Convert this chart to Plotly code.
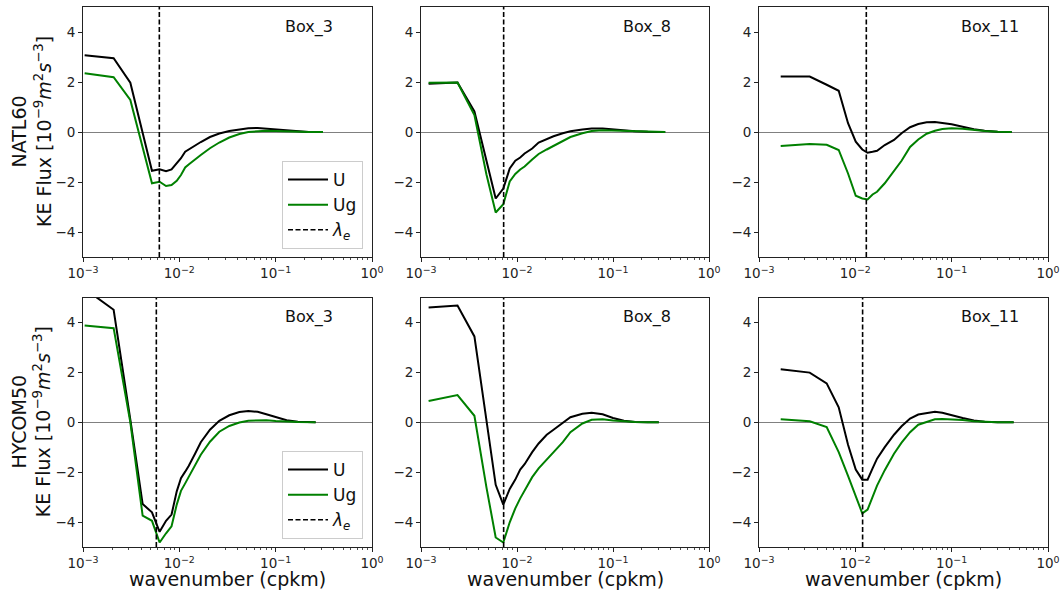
import plotly.graph_objects as go

# ---------------- data ----------------
# NATL60 Box_3
k_n3 = [0.00104, 0.00208, 0.0031, 0.00416, 0.0052, 0.00624, 0.00728, 0.0083, 0.0094, 0.0104, 0.0115,
        0.0125, 0.0146, 0.0167, 0.0208, 0.026, 0.033, 0.042, 0.052, 0.065, 0.08, 0.1, 0.13, 0.17, 0.22, 0.31]
u_n3 = [3.07, 2.95, 1.97, 0.0, -1.55, -1.49, -1.57, -1.5, -1.25, -1.05, -0.79,
        -0.7, -0.52, -0.4, -0.2, -0.06, 0.04, 0.11, 0.15, 0.16, 0.13, 0.09, 0.05, 0.02, 0.0, 0.0]
ug_n3 = [2.35, 2.19, 1.28, -0.6, -2.05, -1.99, -2.16, -2.12, -1.95, -1.72, -1.42,
         -1.3, -1.08, -0.92, -0.65, -0.42, -0.22, -0.08, 0.0, 0.04, 0.05, 0.04, 0.02, 0.01, 0.0, 0.0]

# NATL60 Box_8
k_n8 = [0.0012, 0.0024, 0.0036, 0.0048, 0.006, 0.0072, 0.0084, 0.0096, 0.0108, 0.012, 0.0144, 0.0168,
        0.0204, 0.024, 0.03, 0.036, 0.048, 0.06, 0.078, 0.1, 0.13, 0.17, 0.23, 0.35]
u_n8 = [1.93, 1.98, 0.82, -1.15, -2.66, -2.26, -1.46, -1.15, -1.02, -0.86, -0.66, -0.42,
        -0.28, -0.17, -0.05, 0.03, 0.1, 0.14, 0.14, 0.1, 0.06, 0.03, 0.01, 0.0]
ug_n8 = [1.97, 1.98, 0.68, -1.69, -3.22, -2.89, -1.98, -1.68, -1.5, -1.38, -1.1, -0.88,
         -0.7, -0.55, -0.35, -0.2, -0.05, 0.04, 0.07, 0.06, 0.03, 0.01, 0.0, 0.0]

# NATL60 Box_11
k_n11 = [0.00168, 0.00336, 0.00504, 0.00672, 0.0084, 0.0101, 0.0118, 0.0134, 0.0151, 0.0168, 0.0202, 0.0252,
         0.0302, 0.037, 0.045, 0.055, 0.067, 0.08, 0.1, 0.13, 0.17, 0.22, 0.3, 0.42]
u_n11 = [2.22, 2.22, 1.89, 1.65, 0.35, -0.39, -0.7, -0.83, -0.79, -0.75, -0.52, -0.32,
         -0.05, 0.19, 0.32, 0.39, 0.4, 0.37, 0.31, 0.21, 0.11, 0.05, 0.01, 0.0]
ug_n11 = [-0.56, -0.48, -0.51, -0.72, -1.66, -2.55, -2.66, -2.7, -2.5, -2.39, -2.05, -1.55,
          -1.15, -0.6, -0.3, -0.07, 0.05, 0.12, 0.15, 0.13, 0.08, 0.04, 0.01, 0.0]

# HYCOM50 Box_3
k_h3 = [0.00104, 0.00208, 0.0031, 0.00416, 0.0052, 0.00624, 0.00728, 0.0083, 0.0094, 0.0104, 0.0115,
        0.0125, 0.0146, 0.0167, 0.0208, 0.026, 0.033, 0.042, 0.052, 0.065, 0.08, 0.1, 0.13, 0.17, 0.26]
u_h3 = [5.35, 4.51, 0.1, -3.28, -3.61, -4.39, -3.95, -3.7, -2.77, -2.24, -1.98,
        -1.75, -1.25, -0.8, -0.3, 0.06, 0.28, 0.41, 0.45, 0.42, 0.32, 0.2, 0.08, 0.02, 0.0]
ug_h3 = [3.88, 3.77, 0.0, -3.74, -3.95, -4.82, -4.45, -4.17, -3.3, -2.75, -2.45,
         -2.2, -1.7, -1.3, -0.78, -0.38, -0.15, -0.01, 0.06, 0.08, 0.08, 0.05, 0.02, 0.01, 0.0]

# HYCOM50 Box_8
k_h8 = [0.0012, 0.0024, 0.0036, 0.0048, 0.006, 0.0072, 0.0084, 0.0096, 0.0108, 0.012, 0.0144, 0.0168,
        0.0204, 0.024, 0.03, 0.036, 0.048, 0.06, 0.078, 0.1, 0.13, 0.17, 0.23, 0.3]
u_h8 = [4.6, 4.68, 3.44, 0.0, -2.51, -3.3, -2.67, -2.3, -1.9, -1.68, -1.2, -0.85,
        -0.5, -0.3, -0.04, 0.2, 0.34, 0.38, 0.32, 0.17, 0.06, 0.01, 0.0, 0.0]
ug_h8 = [0.85, 1.09, 0.26, -2.6, -4.62, -4.82, -4.01, -3.45, -3.05, -2.75, -2.2, -1.85,
         -1.5, -1.2, -0.8, -0.4, -0.05, 0.1, 0.12, 0.07, 0.03, 0.01, 0.0, 0.0]

# HYCOM50 Box_11
k_h11 = [0.00168, 0.00336, 0.00504, 0.00672, 0.0084, 0.0101, 0.0118, 0.0134, 0.0151, 0.0168, 0.0202, 0.0252,
         0.0302, 0.037, 0.045, 0.055, 0.067, 0.08, 0.1, 0.13, 0.17, 0.22, 0.3, 0.44]
u_h11 = [2.12, 1.99, 1.56, 0.6, -0.9, -1.9, -2.3, -2.3, -1.85, -1.46, -1.0, -0.5,
         -0.16, 0.15, 0.31, 0.38, 0.42, 0.38, 0.27, 0.17, 0.07, 0.02, 0.0, 0.0]
ug_h11 = [0.12, 0.04, -0.19, -1.2, -2.15, -3.0, -3.65, -3.5, -3.0, -2.54, -1.92, -1.26,
          -0.82, -0.4, -0.1, 0.01, 0.12, 0.13, 0.12, 0.09, 0.04, 0.01, 0.0, 0.0]

# eddy wavenumbers (lambda_e)
lam_natl = [0.0062, 0.00726, 0.0130]
lam_hycom = [0.00577, 0.00726, 0.0119]

box_names = ["Box_3", "Box_8", "Box_11"]
model_names = ["NATL60", "HYCOM50"]
x_ticks = [1e-3, 1e-2, 1e-1, 1.0]
x_ticktext = ["10<sup>−3</sup>", "10<sup>−2</sup>", "10<sup>−1</sup>", "10<sup>0</sup>"]
y_ticks = [-4, -2, 0, 2, 4]

panels = [
    (k_n3, u_n3, ug_n3, lam_natl[0]), (k_n8, u_n8, ug_n8, lam_natl[1]), (k_n11, u_n11, ug_n11, lam_natl[2]),
    (k_h3, u_h3, ug_h3, lam_hycom[0]), (k_h8, u_h8, ug_h8, lam_hycom[1]), (k_h11, u_h11, ug_h11, lam_hycom[2]),
]

# ---------------- layout geometry ----------------
W, H = 1060, 592
x_px = [(83, 372), (421, 709), (759, 1048)]
y_px = [(7, 257), (297.5, 547)]

FONT = "DejaVu Sans"
GREEN = "#008000"
minor_vals = [m * 10 ** e for e in (-3, -2, -1) for m in range(2, 10)]

fig = go.Figure()
layout = dict(
    width=W, height=H, margin=dict(l=0, r=0, t=0, b=0, autoexpand=False),
    paper_bgcolor="white", plot_bgcolor="white",
    font=dict(family=FONT, color="#222", size=13.5),
    annotations=[],
)

for i, (k, u, ug, lam) in enumerate(panels):
    row, col = divmod(i, 3)
    n = i + 1
    xa = "x" if n == 1 else f"x{n}"
    ya = "y" if n == 1 else f"y{n}"
    leg = "legend" if row == 0 else "legend2"
    show = col == 0
    fig.add_trace(go.Scatter(x=k, y=u, mode="lines", name="U", line=dict(color="black", width=2),
                             xaxis=xa, yaxis=ya, showlegend=show, legend=leg))
    fig.add_trace(go.Scatter(x=k, y=ug, mode="lines", name="Ug", line=dict(color=GREEN, width=2),
                             xaxis=xa, yaxis=ya, showlegend=show, legend=leg))
    fig.add_trace(go.Scatter(x=[lam, lam], y=[-5, 5], mode="lines", name="<i>λ<sub>e</sub></i>",
                             line=dict(color="black", width=1.6, dash="5px,2.5px"),
                             xaxis=xa, yaxis=ya, showlegend=show, legend=leg))

    x0, x1 = x_px[col]
    y0, y1 = y_px[row]
    xkey = "xaxis" if n == 1 else f"xaxis{n}"
    ykey = "yaxis" if n == 1 else f"yaxis{n}"
    layout[xkey] = dict(
        domain=[x0 / W, x1 / W], anchor=ya, type="log", range=[-3, 0], automargin=False,
        tickmode="array", tickvals=x_ticks, ticktext=x_ticktext,
        ticks="outside", ticklen=4, tickwidth=1, tickcolor="#222",
        minor=dict(tickmode="array", tickvals=minor_vals, ticks="outside", ticklen=2, tickwidth=0.8, tickcolor="#222"),
        showline=True, mirror=True, linecolor="#222", linewidth=1,
        showgrid=False, zeroline=False, tickfont=dict(size=13.5, color="#222"),
    )
    layout[ykey] = dict(
        domain=[1 - y1 / H, 1 - y0 / H], anchor=xa, range=[-5, 5], automargin=False,
        tickmode="array", tickvals=y_ticks,
        ticks="outside", ticklen=4, tickwidth=1, tickcolor="#222",
        showline=True, mirror=True, linecolor="#222", linewidth=1,
        showgrid=False, zeroline=True, zerolinecolor="#808080", zerolinewidth=1,
        tickfont=dict(size=13.5, color="#222"),
    )
    layout["annotations"].append(dict(
        text=box_names[col], xref=f"{xa} domain", yref=f"{ya} domain", x=0.693, y=0.92,
        xanchor="left", yanchor="middle", showarrow=False, font=dict(size=16, color="#111"),
    ))
    if row == 1:
        layout["annotations"].append(dict(
            text="wavenumber (cpkm)", xref=f"{xa} domain", yref="paper", x=0.5, y=1 - 579 / H,
            xanchor="center", yanchor="middle", showarrow=False, font=dict(size=19, color="#111"),
        ))
    if col == 0:
        layout["annotations"].append(dict(
            text=f"{model_names[row]}<br>KE Flux [10<sup>−9</sup><i>m</i><sup>2</sup><i>s</i><sup>−3</sup>]",
            xref="paper", yref="paper", x=31 / W, y=1 - ((y0 + y1) / 2) / H, textangle=-90,
            xanchor="center", yanchor="middle", showarrow=False, font=dict(size=19, color="#111"),
        ))

legend_style = dict(bgcolor="rgba(255,255,255,0.85)", bordercolor="#cccccc", borderwidth=1,
                    font=dict(size=17, family=FONT, color="#111"), xanchor="right", yanchor="bottom",
                    itemwidth=40, tracegroupgap=0)
layout["legend"] = dict(x=363 / W, y=1 - 249 / H, **legend_style)
layout["legend2"] = dict(x=363 / W, y=1 - 539 / H, **legend_style)

fig.update_layout(**layout)
fig.write_html(
    "out.html",
    config={"displayModeBar": False, "staticPlot": True},
    post_script="document.body.style.margin='0';document.body.style.overflow='hidden';",
)
